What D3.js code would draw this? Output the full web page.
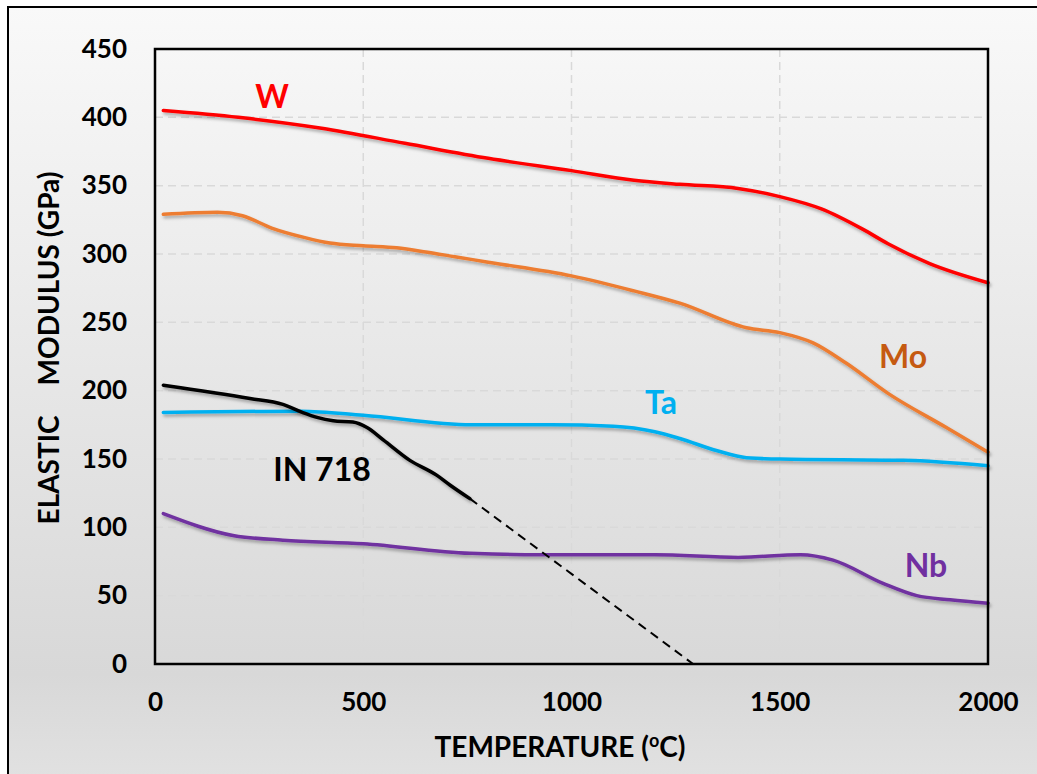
<!DOCTYPE html>
<html>
<head>
<meta charset="utf-8">
<script src="https://cdn.jsdelivr.net/npm/d3@7"></script>
<style>
  body { margin: 0; background: #fff; }
  text { font-family: Lato, "Open Sans", sans-serif; font-weight: 700; }
</style>
</head>
<body>
<div id="chart"></div>
<script>
// temperature (C) / elastic modulus (GPa)
const wData   = [[20,405],[200,400],[400,392],[600,381],[800,370],[1000,361],[1150,354],[1260,351],[1400,348],[1500,342],[1600,333],[1700,318],[1760,307.5],[1860,293],[2000,279]];
const moData  = [[20,329],[150,330.5],[210,328],[280,319],[360,312],[420,308],[500,306],[580,304.5],[650,301.5],[720,298],[800,294],[1000,284],[1150,273],[1260,264],[1420,246],[1500,242.5],[1580,235],[1660,220],[1760,198],[1900,173],[2000,155]];
const taData  = [[20,184],[350,185],[500,182],[760,175],[950,175],[1100,174],[1200,170],[1260,165],[1350,156],[1420,151],[1500,150],[1800,149],[2000,145]];
const inData  = [[20,204],[228,194.3],[307,190],[355,184],[389,180.5],[428,178],[475,177],[509,173],[548,164],[612,149],[677,138],[708,131],[756,121]];
const inExtra = [[756,121],[1292,0]];
const nbData  = [[20,110],[187,94],[307,90.6],[500,88],[756,81],[948,80],[1200,80],[1400,78],[1550,80],[1628,76],[1748,59],[1829,50],[1909,47],[2000,44.5]];

const xTicks = [0, 500, 1000, 1500, 2000];
const yTicks = [0, 50, 100, 150, 200, 250, 300, 350, 400, 450];

const series = [
    { name: 'W',  data: wData,  color: '#ff0000' },
    { name: 'Mo', data: moData, color: '#ed7d31' },
    { name: 'Ta', data: taData, color: '#00b0f0' },
    { name: 'IN 718', data: inData, color: '#000000' },
    { name: 'Nb', data: nbData, color: '#7030a0' }
];
// label text, anchor point in data units, colour
const labels = [
    { text: 'W',      t: 281,  e: 415, color: '#ff0000' },
    { text: 'Mo',     t: 1796, e: 225, color: '#c55a11' },
    { text: 'Ta',     t: 1215, e: 191, color: '#00b0f0' },
    { text: 'IN 718', t: 401,  e: 142, color: '#000000' },
    { text: 'Nb',     t: 1851, e: 72,  color: '#7030a0' }
];

const W = 1037, H = 774;
const margin = { top: 49, right: 49, bottom: 110, left: 155 };
const width = W - margin.left - margin.right;
const height = H - margin.top - margin.bottom;

const svg = d3.select('#chart').append('svg')
    .attr('width', W)
    .attr('height', H);

const defs = svg.append('defs');
const grad = defs.append('linearGradient')
    .attr('id', 'bg').attr('x1', 0).attr('y1', 0).attr('x2', 0).attr('y2', 1);
grad.append('stop').attr('offset', '0%').attr('stop-color', '#f9f9f9');
grad.append('stop').attr('offset', '84%').attr('stop-color', '#d8d8d8');
grad.append('stop').attr('offset', '100%').attr('stop-color', '#e3e3e3');

const shadow = defs.append('filter').attr('id', 'shadow')
    .attr('x', '-5%').attr('y', '-5%').attr('width', '110%').attr('height', '120%');
shadow.append('feDropShadow')
    .attr('dx', 1.5).attr('dy', 2.5).attr('stdDeviation', 1.6)
    .attr('flood-color', '#000').attr('flood-opacity', 0.3);

// chart background + outer frame (right/bottom edges fall outside the picture)
svg.append('rect')
    .attr('x', 8).attr('y', 7).attr('width', W + 20).attr('height', H + 20)
    .attr('fill', 'url(#bg)')
    .attr('stroke', '#000').attr('stroke-width', 2);

const g = svg.append('g').attr('transform', `translate(${margin.left},${margin.top})`);

const x = d3.scaleLinear().domain([0, 2000]).range([0, width]);
const y = d3.scaleLinear().domain([0, 450]).range([height, 0]);

// grid
g.append('g').selectAll('line.h')
    .data(yTicks.filter(d => d > 0 && d < 450))
    .enter().append('line')
    .attr('x1', 0).attr('x2', width)
    .attr('y1', d => y(d)).attr('y2', d => y(d))
    .attr('stroke', '#d9d9d9').attr('stroke-width', 1.5)
    .attr('stroke-dasharray', '8,5');
g.append('g').selectAll('line.v')
    .data(xTicks.filter(d => d > 0 && d < 2000))
    .enter().append('line')
    .attr('y1', 0).attr('y2', height)
    .attr('x1', d => x(d)).attr('x2', d => x(d))
    .attr('stroke', '#d9d9d9').attr('stroke-width', 1.5)
    .attr('stroke-dasharray', '8,5');

// axes (labels only, no tick marks)
const xAxis = g.append('g')
    .attr('transform', `translate(0,${height})`)
    .call(d3.axisBottom(x).tickValues(xTicks).tickFormat(d3.format('d')).tickSize(0).tickPadding(29));
const yAxis = g.append('g')
    .call(d3.axisLeft(y).tickValues(yTicks).tickSize(0).tickPadding(28));
[xAxis, yAxis].forEach(a => {
    a.select('.domain').remove();
    a.selectAll('.tick text')
        .style('font-family', 'Lato, "Open Sans", sans-serif')
        .style('font-weight', 700)
        .style('font-size', '26px')
        .attr('fill', '#000');
});

// curves
const line = d3.line()
    .x(d => x(d[0]))
    .y(d => y(d[1]))
    .curve(d3.curveMonotoneX);

g.append('g').selectAll('path.series')
    .data(series)
    .enter().append('path')
    .attr('d', d => line(d.data))
    .attr('fill', 'none')
    .attr('stroke', d => d.color)
    .attr('stroke-width', 3.5)
    .attr('stroke-linecap', 'round')
    .attr('filter', 'url(#shadow)');

// IN 718 extrapolated
g.append('path')
    .attr('d', d3.line().x(d => x(d[0])).y(d => y(d[1]))(inExtra))
    .attr('fill', 'none')
    .attr('stroke', '#000')
    .attr('stroke-width', 2)
    .attr('stroke-dasharray', '9,6');

// plot frame
g.append('rect')
    .attr('width', width).attr('height', height)
    .attr('fill', 'none').attr('stroke', '#000').attr('stroke-width', 2.5);

// series labels
g.append('g').selectAll('text')
    .data(labels)
    .enter().append('text')
    .attr('x', d => x(d.t))
    .attr('y', d => y(d.e))
    .attr('dy', '0.36em')
    .attr('text-anchor', 'middle')
    .attr('fill', d => d.color)
    .style('font-size', '32px')
    .text(d => d.text);

// axis titles
const xt = svg.append('text')
    .attr('x', 560).attr('y', 757)
    .attr('text-anchor', 'middle')
    .style('font-size', '28px');
xt.append('tspan').text('TEMPERATURE (');
xt.append('tspan').attr('dy', -10).style('font-size', '18px').text('o');
xt.append('tspan').attr('dy', 10).text('C)');

const yt = svg.append('text')
    .attr('transform', 'translate(59,348) rotate(-90)')
    .attr('text-anchor', 'middle')
    .style('font-size', '28px');
yt.append('tspan').text('ELASTIC');
yt.append('tspan').attr('dx', 30).text('MODULUS (GPa)');
</script>
</body>
</html>
